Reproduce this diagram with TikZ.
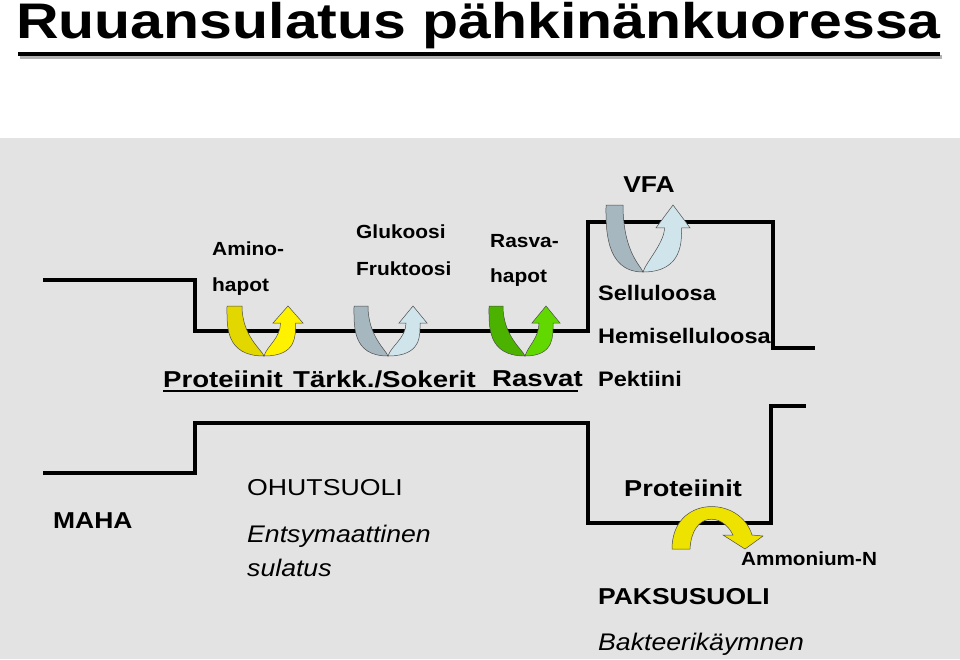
\documentclass[tikz,border=0pt]{standalone}
\usepackage{fontspec}
\setmainfont{Liberation Sans}
\newcommand\sx[2]{\scalebox{#1}[1]{#2}}
\begin{document}
\begin{tikzpicture}[x=1pt,y=-1pt,
  wall/.style={line width=4pt},
  lbl/.style={anchor=west,inner sep=0pt,font=\fontsize{19}{22}\selectfont\bfseries},
  big/.style={anchor=west,inner sep=0pt,font=\fontsize{23}{26}\selectfont\bfseries},
  ital/.style={anchor=west,inner sep=0pt,font=\fontsize{24}{28}\selectfont\itshape},
  rib/.style={draw=black!70,line width=0.5pt}]
\useasboundingbox (0,0) rectangle (960,659);
\fill[white] (0,0) rectangle (960,659);
\fill[gray!22] (0,138) rectangle (960,659);
% title
\node[anchor=west,inner sep=0pt,font=\fontsize{50}{56}\selectfont\bfseries] (title) at (16,26) {\sx{1.18}{Ruuansulatus pähkinänkuoressa}};
\draw[line width=4pt,gray!60] (20,57) -- (942,57);
\draw[line width=4pt] (18,54) -- (940,54);
% walls
\draw[wall] (43,280) -- (195,280) -- (195,331) -- (588,331) -- (588,222) -- (773,222) -- (773,348) -- (815,348);
\draw[wall] (43,473) -- (195,473) -- (195,423) -- (588,423) -- (588,523) -- (771,523) -- (771,406) -- (806,406);
\draw[line width=1.5pt] (163,391) -- (578,391);
% ribbon arrows
\newcommand\ribarrow[9]{% L t cx top bot R hw leftcol rightcol
  \pgfmathsetmacro\hb{#4+(#5-#4)*0.34}
  \fill[#8,rib] (#1,#4) -- ({#1+#2},#4) .. controls ({#1+#2},{#5-20}) and ({#3-2},{#5-6}) .. (#3,#5)
     .. controls ({#1-2},#5) and (#1,{#4+20}) .. cycle;
  \fill[#9,rib] (#3,#5) .. controls ({#6+#2/2+2},#5) and ({#6+#2/2},{\hb+12}) .. ({#6+#2/2},\hb)
     -- ({#6+#7},\hb) -- (#6,#4) -- ({#6-#7},\hb) -- ({#6-#2/2},\hb)
     .. controls ({#6-#2/2},{\hb+15}) and ({#3+3},{#5-10}) .. cycle;}
\ribarrow{227}{15}{264}{306}{356}{288}{15}{yellow!75!olive}{yellow}
\ribarrow{354}{14}{388}{306}{356}{413}{14}{cyan!20!gray!70}{cyan!15!white!85!gray}
\ribarrow{489}{14}{525}{306}{356}{546}{14}{green!40!olive}{green!55!yellow!85!black}
\ribarrow{606}{17}{643}{205}{272}{673}{17}{cyan!20!gray!70}{cyan!15!white!85!gray}
\fill[yellow!85!olive,rib] (672,549) .. controls (672,495) and (740,495) .. (752,535)
  -- (763,536) -- (745,549) -- (723,535) -- (733,535)
  .. controls (722,512) and (692,512) .. (690,549) -- cycle;
% labels
\node[lbl] (amino) at (212,249) {\sx{1.1}{Amino-}};
\node[lbl] (hapot1) at (212,287) {\sx{1.1}{hapot}};
\node[lbl] (gluk) at (356,232) {\sx{1.1}{Glukoosi}};
\node[lbl] (fruk) at (356,269) {\sx{1.1}{Fruktoosi}};
\node[lbl] (rasva) at (490,241) {\sx{1.1}{Rasva-}};
\node[lbl] (hapot2) at (490,278) {\sx{1.1}{hapot}};
\node[big,anchor=center] (vfa) at (649,185) {\sx{1.15}{VFA}};
\node[lbl,font=\fontsize{21}{24}\selectfont\bfseries] (sell) at (598,293) {\sx{1.12}{Selluloosa}};
\node[lbl,font=\fontsize{21}{24}\selectfont\bfseries] (hemi) at (598,336) {\sx{1.12}{Hemiselluloosa}};
\node[lbl,font=\fontsize{21}{24}\selectfont\bfseries] (pekt) at (598,379) {\sx{1.12}{Pektiini}};
\node[big] (prot) at (163,379) {\sx{1.2}{Proteiinit}};
\node[big] (tark) at (293,379) {\sx{1.2}{Tärkk./Sokerit}};
\node[big] (rasv) at (492,379) {\sx{1.2}{Rasvat}};
\node[big] (maha) at (53,521) {\sx{1.15}{MAHA}};
\node[big,font=\fontsize{23}{26}\selectfont] (ohut) at (247,488) {\sx{1.16}{OHUTSUOLI}};
\node[ital] (ents) at (247,536) {\sx{1.11}{Entsymaattinen}};
\node[ital] (sul) at (247,568) {\sx{1.11}{sulatus}};
\node[big] (prot2) at (624,488) {\sx{1.18}{Proteiinit}};
\node[lbl] (amm) at (741,559) {\sx{1.09}{Ammonium-N}};
\node[big] (paks) at (598,597) {\sx{1.15}{PAKSUSUOLI}};
\node[ital] (bakt) at (598,644) {\sx{1.11}{Bakteerikäymnen}};
\end{tikzpicture}
\end{document}
